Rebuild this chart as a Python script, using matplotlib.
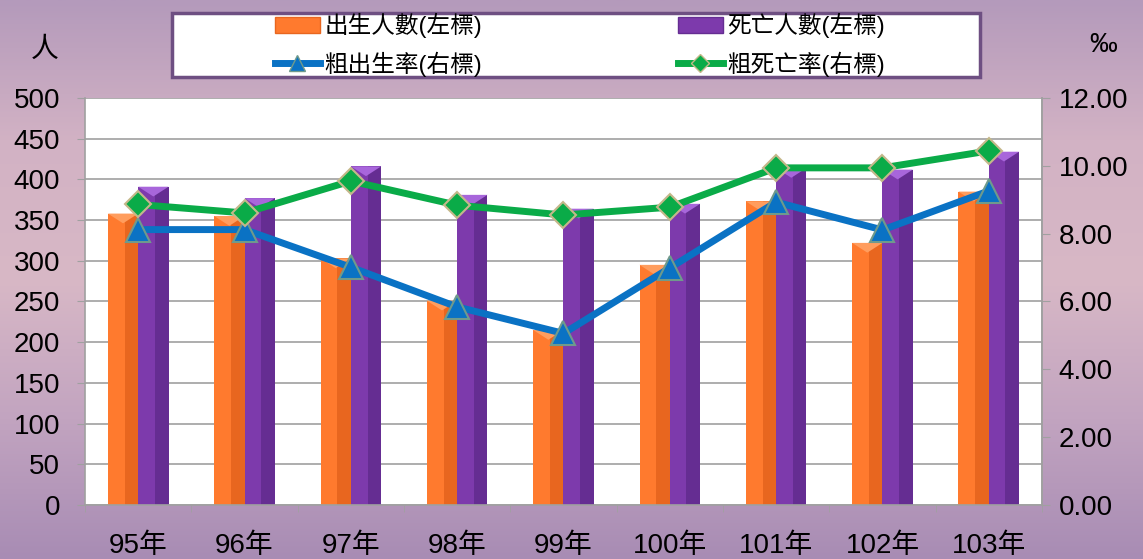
import numpy as np
import matplotlib
matplotlib.use('Agg')
import matplotlib.pyplot as plt
from matplotlib.patches import Rectangle, Polygon, Patch
from matplotlib.lines import Line2D
from matplotlib.colors import LinearSegmentedColormap

plt.rcParams['font.family'] = ['Liberation Sans', 'Noto Sans CJK TC', 'DejaVu Sans']

# ========================== DATA ================================
years = ['95年', '96年', '97年', '98年', '99年', '100年', '101年', '102年', '103年']
births = [358, 355, 303, 251, 215, 295, 373, 322, 385]
deaths = [391, 377, 416, 381, 364, 370, 414, 412, 434]
birth_rate = [8.12, 8.12, 7.01, 5.84, 5.06, 6.99, 8.93, 8.11, 9.26]
death_rate = [8.86, 8.61, 9.55, 8.84, 8.55, 8.78, 9.94, 9.94, 10.44]

left_ticks = list(range(0, 501, 50))
right_ticks = [0, 2, 4, 6, 8, 10, 12]

labels = ['出生人數(左標)', '粗出生率(右標)', '死亡人數(左標)', '粗死亡率(右標)']

ORANGE = ('#ff7a2e', '#e8661f', '#ff9d5e')
PURPLE = ('#7d3aac', '#652d92', '#a866db')
BLUE = '#0a72c4'
GREEN = '#0aab48'
GRID = '#a0a0a0'

# ========================== FIGURE ================================
fig = plt.figure(figsize=(11.43, 5.59), dpi=100)

bg = fig.add_axes([0, 0, 1, 1], zorder=-10)
bg_cmap = LinearSegmentedColormap.from_list(
    'bg', ['#b49abb', '#d2b2c4', '#d8b8c6', '#c2a4c0', '#a88cb4'])
bg.imshow(np.linspace(0, 1, 256).reshape(-1, 1), aspect='auto', cmap=bg_cmap,
          extent=[0, 1, 0, 1])
bg.set_axis_off()

ax = fig.add_axes([0.0744, 0.0966, 0.8372, 0.7281])
ax.set_facecolor('white')
x = np.arange(len(years))
w = 0.285
bevel = 12


def draw_bars(xs, values, colors):
    main, dark, light = colors
    for xi, v in zip(xs, values):
        ax.add_patch(Rectangle((xi, 0), w, v, facecolor=main, edgecolor='none', zorder=2))
        ax.add_patch(Rectangle((xi + w * 0.55, 0), w * 0.45, v, facecolor=dark,
                               edgecolor='none', zorder=2))
        ax.add_patch(Polygon([(xi, v), (xi + w, v), (xi + w / 2, v - bevel)],
                             closed=True, facecolor=light, edgecolor='none', zorder=3))


draw_bars(x - w, births, ORANGE)
draw_bars(x, deaths, PURPLE)

ax.set_xlim(-0.5, len(years) - 0.5)
ax.set_ylim(0, 500)
ax.set_yticks(left_ticks)
ax.yaxis.grid(True, color=GRID, linewidth=1.2, zorder=0)
ax.set_axisbelow(True)
ax.tick_params(axis='y', direction='out', length=6, color=GRID, labelsize=20, pad=12)
ax.set_xticks(x)
ax.set_xticklabels(years)
ax.set_xticks(np.arange(-0.5, len(years), 1), minor=True)
ax.tick_params(axis='x', which='major', length=0, labelsize=20, pad=20)
ax.tick_params(axis='x', which='minor', direction='out', length=5, color=GRID)
ax.spines['top'].set_visible(False)
for s in ['left', 'right', 'bottom']:
    ax.spines[s].set_color(GRID)
    ax.spines[s].set_linewidth(1.2)

ax2 = ax.twinx()
ax2.patch.set_visible(False)
ax2.plot(x, birth_rate, color=BLUE, linewidth=5, marker='^', markersize=17,
         markerfacecolor=BLUE, markeredgecolor='#6f9a8c', markeredgewidth=1.5, zorder=5)
ax2.plot(x, death_rate, color=GREEN, linewidth=5, marker='D', markersize=13,
         markerfacecolor=GREEN, markeredgecolor='#c4b88a', markeredgewidth=1.5, zorder=6)
ax2.set_ylim(0, 12)
ax2.set_yticks(right_ticks)
ax2.set_yticklabels(['%.2f' % t for t in right_ticks])
ax2.tick_params(axis='y', direction='out', length=6, color=GRID, labelsize=20, pad=6)
for s in ['top', 'left', 'bottom']:
    ax2.spines[s].set_visible(False)
ax2.spines['right'].set_color(GRID)
ax2.spines['right'].set_linewidth(1.2)

fig.text(45 / 1143, 1 - 50 / 559, '人', fontsize=20, ha='center', va='center')
fig.text(1103 / 1143, 1 - 45 / 559, '‰', fontsize=20, ha='center', va='center')

# ========================== LEGEND ================================
fig.patches.append(Rectangle((172 / 1143, 1 - 77 / 559), 808 / 1143, 64 / 559,
                             transform=fig.transFigure, facecolor='white',
                             edgecolor='#6e4f82', linewidth=2.5, zorder=1))
handles = [
    Patch(facecolor=ORANGE[0], edgecolor=ORANGE[1]),
    Line2D([], [], color=BLUE, linewidth=5, marker='^', markersize=12,
           markeredgecolor='#6f9a8c'),
    Patch(facecolor=PURPLE[0], edgecolor=PURPLE[1]),
    Line2D([], [], color=GREEN, linewidth=5, marker='D', markersize=9,
           markeredgecolor='#c4b88a'),
]
leg = fig.legend(handles, labels, ncol=2, loc='center',
                 bbox_to_anchor=(580 / 1143, 1 - 45 / 559), frameon=False,
                 fontsize=17, columnspacing=8.3, handlelength=1.9, handletextpad=0.2,
                 labelspacing=0.55)

fig.savefig('out.png', dpi=100)
